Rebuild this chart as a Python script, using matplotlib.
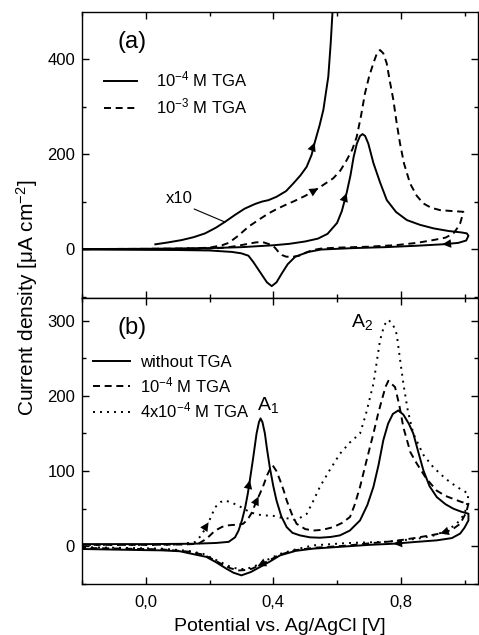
import numpy as np
import matplotlib
matplotlib.use('Agg')
import matplotlib.pyplot as plt
from matplotlib.ticker import MultipleLocator, FuncFormatter
from matplotlib.lines import Line2D

plt.rcParams['font.family'] = ['Liberation Sans', 'DejaVu Sans']
plt.rcParams['mathtext.fontset'] = 'custom'
plt.rcParams['mathtext.rm'] = 'Liberation Sans'
plt.rcParams['mathtext.it'] = 'Liberation Sans:italic'
plt.rcParams['mathtext.default'] = 'regular'

# ---------------- data: panel (a) ----------------
a_solid_x = [-0.2, 0.0, 0.1, 0.2, 0.3, 0.4, 0.45, 0.5, 0.54, 0.57, 0.6, 0.615, 0.63, 0.642, 0.652,
             0.662, 0.672, 0.680, 0.688, 0.698, 0.714, 0.735, 0.756, 0.785, 0.819, 0.86, 0.903,
             0.95, 0.99, 1.007, 1.012,
             1.005, 0.98, 0.93, 0.85, 0.75, 0.65, 0.55, 0.51, 0.469, 0.445, 0.427, 0.41, 0.395,
             0.38, 0.365, 0.354, 0.337, 0.322, 0.30, 0.27, 0.2, 0.1, -0.2]
a_solid_y = [0, 0.5, 1, 2, 4, 8, 11, 16, 22, 32, 55, 80, 118, 155, 194,
             222, 238, 242, 238, 222, 181, 140, 103, 78, 61, 51, 43.5,
             38, 35, 33, 28,
             18, 13, 10, 7, 4, 2, -1, -6, -16, -32, -51, -70, -78,
             -70, -55, -44, -27, -14, -9, -6, -3, -2, -1]

a_x10_x = [0.03, 0.07, 0.113, 0.15, 0.186, 0.22, 0.249, 0.28, 0.31, 0.343, 0.365, 0.385, 0.41,
           0.44, 0.4626, 0.485, 0.5045, 0.52, 0.5306, 0.545, 0.557, 0.5725, 0.58, 0.586]
a_x10_y = [10, 14, 19, 25, 33, 45, 57.5, 72, 85, 95, 100, 103, 110,
           122, 138, 155, 173, 198, 226, 260, 293, 363, 433, 503]

a_dash_x = [-0.2, 0.0, 0.15, 0.2, 0.239, 0.26, 0.29, 0.322, 0.355, 0.385, 0.41, 0.448, 0.4626, 0.5,
            0.541, 0.588, 0.61, 0.63, 0.648, 0.6615, 0.675, 0.6876, 0.70, 0.7137, 0.725, 0.7347,
            0.745, 0.7557, 0.765, 0.7765, 0.787, 0.7975, 0.81, 0.829, 0.85, 0.8707, 0.895, 0.923,
            0.96, 0.996,
            0.992, 0.986, 0.975, 0.965, 0.94, 0.902, 0.85, 0.787, 0.7, 0.60, 0.55, 0.524, 0.50,
            0.481, 0.46, 0.44, 0.427, 0.415, 0.405, 0.395, 0.375, 0.364, 0.345, 0.32, 0.29, 0.26,
            0.22, 0.1, -0.2]
a_dash_y = [0, 0.5, 1.5, 3, 8, 13, 28, 47, 62, 75, 84, 96, 100, 112,
            128, 149, 165, 187, 210, 236, 280, 328, 362, 391, 412, 419,
            412, 391, 355, 314, 265, 222, 180, 138, 112, 96, 87, 82,
            80, 78.5,
            68, 54, 42, 33, 24, 19, 13, 8.4, 5, 3, 1, -2, -8,
            -14, -16.5, -16, -12.5, -5, 3, 8.4, 13, 15, 14, 11, 7, 4,
            1.5, 0.5, 0]

# ---------------- data: panel (b) ----------------
b_solid_x = [-0.2, 0.0, 0.15, 0.22, 0.26, 0.28, 0.291, 0.302, 0.312, 0.32, 0.3265, 0.337, 0.3475,
             0.355, 0.36, 0.366, 0.3736, 0.38, 0.389, 0.40, 0.41, 0.425, 0.442, 0.46, 0.4835,
             0.515, 0.546, 0.58, 0.609, 0.64, 0.672, 0.695, 0.714, 0.73, 0.745, 0.76, 0.775,
             0.792, 0.808, 0.825, 0.839, 0.855, 0.8707, 0.89, 0.9127, 0.94, 0.965, 0.99, 1.012,
             1.012, 1.0, 0.986, 0.96, 0.9127, 0.85, 0.7765, 0.70, 0.63, 0.525, 0.47, 0.421, 0.39,
             0.358, 0.33, 0.30, 0.275, 0.253, 0.22, 0.19, 0.134, 0.107, 0.05, 0.0, -0.2]
b_solid_y = [3, 3, 3.5, 4.5, 6, 12, 21, 35, 52, 70, 88, 118, 150,
             165, 170, 165, 150, 130, 105, 80, 61, 40, 25.6, 18, 14.6,
             12, 11.5, 12.5, 14.6, 21, 34.5, 55, 79, 108, 141, 163, 176,
             180.6, 175, 163, 150, 125, 101, 80, 65.5, 56, 50, 46, 43.4,
             34.5, 25, 17, 11, 8, 6, 3.5, 2, 0, -3, -6, -12, -20,
             -27.5, -34, -38.5, -35, -29.7, -21, -14, -9, -6.5, -5.3, -5, -3.5]

b_dash_x = [-0.2, 0.0, 0.12, 0.165, 0.19, 0.2177, 0.24, 0.26, 0.29, 0.3055, 0.32, 0.333, 0.345,
            0.358, 0.37, 0.38, 0.39, 0.398, 0.41, 0.421, 0.432, 0.442, 0.458, 0.473, 0.50, 0.525,
            0.555, 0.588, 0.615, 0.6405, 0.655, 0.672, 0.693, 0.714, 0.728, 0.74, 0.752, 0.761,
            0.7818, 0.795, 0.808, 0.83, 0.85, 0.88, 0.9127, 0.94, 0.965, 0.99, 1.012,
            1.005, 0.986, 0.96, 0.923, 0.85, 0.78, 0.70, 0.63, 0.525, 0.47, 0.421, 0.39, 0.358,
            0.333, 0.31, 0.291, 0.265, 0.24, 0.21, 0.18, 0.134, 0.05, -0.2]
b_dash_y = [2, 2, 2.5, 3.5, 10, 21, 26, 28, 29, 30, 36, 45, 58,
            70, 82, 94, 103, 107.6, 100, 88, 75, 61, 43, 30, 23, 21,
            22, 25.6, 31, 39, 55, 79, 115, 150, 175, 194, 212, 220,
            211.6, 188, 158, 125, 110, 90, 74, 67, 63, 59, 56.7,
            45, 30, 22, 17, 11.5, 7, 4, 1, -2, -5, -11, -18, -25,
            -29.7, -31.5, -32, -29, -24, -17, -11, -7, -4, -2]

b_dot_x = [-0.2, 0.0, 0.1, 0.155, 0.175, 0.197, 0.2177, 0.235, 0.249, 0.27, 0.291, 0.32, 0.343,
           0.37, 0.3956, 0.42, 0.448, 0.4626, 0.48, 0.5045, 0.525, 0.546, 0.575, 0.609, 0.64,
           0.672, 0.69, 0.714, 0.7347, 0.748, 0.761, 0.775, 0.787, 0.797, 0.808, 0.822, 0.839,
           0.87, 0.902, 0.94, 0.9755, 1.0, 1.012,
           1.008, 1.0, 0.975, 0.944, 0.9, 0.85, 0.75, 0.63, 0.525, 0.47, 0.421, 0.39, 0.358,
           0.333, 0.31, 0.29, 0.265, 0.24, 0.21, 0.18, 0.134, 0.05, -0.2]
b_dot_y = [2, 2, 2.5, 5.8, 15, 32, 52, 59, 61, 58, 54, 47, 43,
           41, 41, 38.5, 37, 35, 37, 43, 60, 79, 100, 123, 138,
           150, 175, 216, 273.6, 294, 301, 295, 282, 250, 216, 180, 150,
           122, 105, 90, 79, 73, 70,
           57, 43, 30, 21, 14, 10, 6, 4.4, 1.3, -4, -10, -16, -23,
           -28, -30, -30, -27, -22, -16, -10, -6, -3, -1]

a_labels = ['10$^{-4}$ M TGA', '10$^{-3}$ M TGA']
b_labels = ['without TGA', '10$^{-4}$ M TGA', '4x10$^{-4}$ M TGA']
x_major = [0.0, 0.4, 0.8]

# ---------------- styles ----------------
LW = 1.4
SOLID = '-'
DASH = (0, (3.6, 2.4))
DOT = (0, (1.0, 2.6))


def add_arrow(ax, xs, ys, xa, direction):
    xs = np.asarray(xs, float)
    ys = np.asarray(ys, float)
    imax = int(np.argmax(xs))
    if direction > 0:
        bx, by = xs[:imax + 1], ys[:imax + 1]
    else:
        bx, by = xs[imax:][::-1], ys[imax:][::-1]
    d = 0.035 * direction
    ya = np.interp(xa, bx, by)
    y0 = np.interp(xa - d, bx, by)
    ax.annotate('', xy=(xa, ya), xytext=(xa - d, y0),
                arrowprops=dict(arrowstyle='-|>,head_length=0.45,head_width=0.22',
                                lw=0.01, fc='k', ec='k', shrinkA=0, shrinkB=0,
                                mutation_scale=14))


fig = plt.figure(figsize=(4.79, 6.35), dpi=100)
W, H = 479, 635
L, R = 82, 478
ax1 = fig.add_axes([L / W, 1 - 298 / H, (R - L) / W, 286 / H])
ax2 = fig.add_axes([L / W, 1 - 584 / H, (R - L) / W, 286 / H])

# panel (a)
ax1.plot(a_solid_x, a_solid_y, color='k', lw=LW, ls=SOLID)
ax1.plot(a_x10_x, a_x10_y, color='k', lw=LW, ls=SOLID)
ax1.plot(a_dash_x, a_dash_y, color='k', lw=LW, ls=DASH)
add_arrow(ax1, a_x10_x, a_x10_y, 0.530, 1)
add_arrow(ax1, a_solid_x, a_solid_y, 0.630, 1)
add_arrow(ax1, a_dash_x, a_dash_y, 0.541, 1)
add_arrow(ax1, a_solid_x, a_solid_y, 0.930, -1)

# panel (b)
ax2.plot(b_solid_x, b_solid_y, color='k', lw=LW, ls=SOLID)
ax2.plot(b_dash_x, b_dash_y, color='k', lw=LW, ls=DASH)
ax2.plot(b_dot_x, b_dot_y, color='k', lw=LW, ls=DOT)
add_arrow(ax2, b_solid_x, b_solid_y, 0.3265, 1)
add_arrow(ax2, b_dash_x, b_dash_y, 0.354, 1)
add_arrow(ax2, b_dot_x, b_dot_y, 0.197, 1)
add_arrow(ax2, b_solid_x, b_solid_y, 0.7765, -1)
add_arrow(ax2, b_dash_x, b_dash_y, 0.923, -1)
add_arrow(ax2, b_dash_x, b_dash_y, 0.35, -1)

fmt = FuncFormatter(lambda v, p: f'{v:.1f}'.replace('.', ','))
for ax in (ax1, ax2):
    ax.set_xlim(-0.2, 1.042)
    ax.set_xticks(x_major)
    ax.xaxis.set_minor_locator(MultipleLocator(0.2))
    ax.xaxis.set_major_formatter(fmt)
    ax.tick_params(which='both', direction='in', top=True, right=True, width=1.0,
                   labelsize=12)
    ax.tick_params(which='major', length=5)
    ax.tick_params(which='minor', length=3)
    ax.tick_params(axis='y', pad=5)
    ax.tick_params(axis='x', pad=8)
    for s in ax.spines.values():
        s.set_linewidth(1.0)

ax1.set_ylim(-103, 499)
ax1.set_yticks([0, 200, 400])
ax1.yaxis.set_minor_locator(MultipleLocator(100))
ax1.tick_params(axis='x', labelbottom=False)

ax2.set_ylim(-50, 330)
ax2.set_yticks([0, 100, 200, 300])
ax2.yaxis.set_minor_locator(MultipleLocator(50))

# legends
ha = [Line2D([], [], color='k', lw=LW, ls=SOLID), Line2D([], [], color='k', lw=LW, ls=DASH)]
ax1.legend(ha, a_labels, loc='upper left', bbox_to_anchor=((104 - L) / (R - L), (298 - 70) / 286),
           frameon=False, fontsize=12, handlelength=2.0, handletextpad=1.15,
           labelspacing=0.4, borderaxespad=0, borderpad=0)
hb = [Line2D([], [], color='k', lw=LW, ls=SOLID), Line2D([], [], color='k', lw=LW, ls=DASH),
      Line2D([], [], color='k', lw=LW, ls=DOT)]
ax2.legend(hb, b_labels, loc='upper left', bbox_to_anchor=((93 - L) / (R - L), (584 - 355) / 286),
           frameon=False, fontsize=12, handlelength=2.2, handletextpad=0.6,
           labelspacing=0.32, borderaxespad=0, borderpad=0)

# panel labels and annotations
ax1.text((132 - L) / (R - L), (298 - 42) / 286, '(a)', transform=ax1.transAxes,
         fontsize=17, ha='center', va='center')
ax2.text((132 - L) / (R - L), (584 - 328) / 286, '(b)', transform=ax2.transAxes,
         fontsize=17, ha='center', va='center')
ax1.annotate('x10', xy=(0.248, 57), xytext=(0.104, 106), fontsize=12, ha='center', va='center',
             arrowprops=dict(arrowstyle='-', lw=0.8, color='k', relpos=(0.82, 0.0),
                             shrinkA=0, shrinkB=0))
ax2.text((268 - L) / (R - L), (584 - 405) / 286, 'A$_1$', transform=ax2.transAxes,
         fontsize=14, ha='center', va='center')
ax2.text((362 - L) / (R - L), (584 - 322) / 286, 'A$_2$', transform=ax2.transAxes,
         fontsize=14, ha='center', va='center')

fig.text(27 / W, 1 - 298 / H, 'Current density [$\\mu$A cm$^{-2}$]', rotation=90,
         ha='center', va='center', fontsize=15)
fig.text((L + R) / 2 / W, 1 - 631 / H, 'Potential vs. Ag/AgCl [V]', ha='center',
         va='baseline', fontsize=14)

fig.savefig('out.png', dpi=100)
